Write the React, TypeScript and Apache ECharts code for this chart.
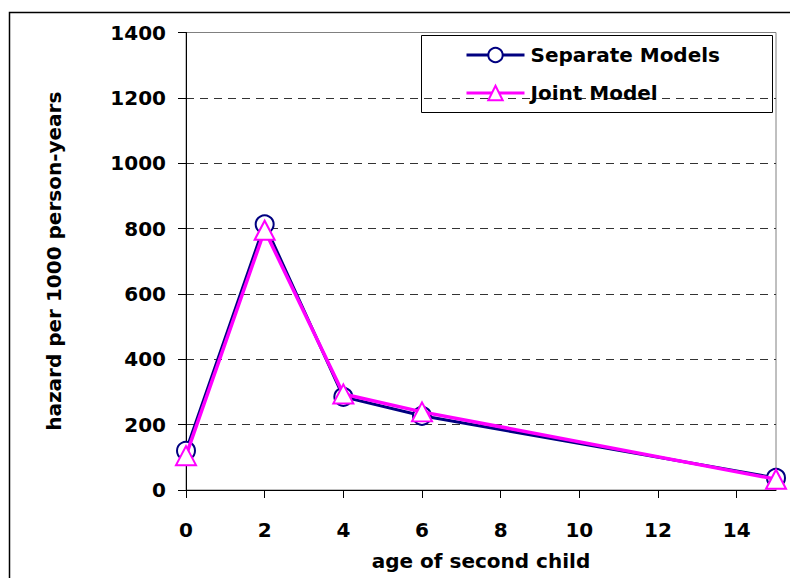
import React, { useEffect, useRef } from "react";
import * as echarts from "echarts";

const ages = [0, 2, 4, 6, 15];
const separateModels = [120, 813, 285, 227, 37];
const jointModel = [105, 795, 294, 239, 33];
const xTicks = [0, 2, 4, 6, 8, 10, 12, 14];
const seriesNames = ["Separate Models", "Joint Model"];

export default function App() {
  const ref = useRef<HTMLDivElement>(null);
  useEffect(() => {
    if (!ref.current) return;
    const chart = echarts.init(ref.current, undefined, { renderer: "svg" });
    const font = "'DejaVu Sans', 'Liberation Sans', sans-serif";
    const txt = { fontSize: 20, fontWeight: "bold", color: "#000", fontFamily: font };
    chart.setOption({
      animation: false,
      backgroundColor: "#ffffff",
      textStyle: { fontFamily: font },
      grid: {
        left: 186,
        right: 14,
        top: 32.5,
        bottom: 88,
        show: true,
        borderColor: "#808080",
        borderWidth: 1,
        containLabel: false,
      },
      legend: {
        orient: "vertical",
        left: 465,
        top: 45,
        padding: 0,
        itemWidth: 58,
        itemHeight: 18,
        itemGap: 18,
        textStyle: { ...txt, padding: [0, 0, 0, 1] },
        data: [
          { name: seriesNames[0], lineStyle: { width: 3 } },
          { name: seriesNames[1], lineStyle: { width: 3 } },
        ],
      },
      xAxis: {
        type: "value",
        min: 0,
        max: 15,
        interval: 2,
        name: "age of second child",
        nameLocation: "middle",
        nameGap: 61,
        nameTextStyle: txt,
        axisLine: { show: true, lineStyle: { color: "#000", width: 1 } },
        axisTick: { show: true, length: 8, inside: false, lineStyle: { color: "#000" }, customValues: xTicks },
        axisLabel: { ...txt, margin: 30, customValues: xTicks },
        splitLine: { show: false },
      },
      yAxis: {
        type: "value",
        min: 0,
        max: 1400,
        interval: 200,
        name: "hazard per 1000 person-years",
        nameLocation: "middle",
        nameGap: 122,
        nameRotate: 90,
        nameTextStyle: txt,
        axisLine: { show: true, lineStyle: { color: "#000", width: 1 } },
        axisTick: { show: true, length: 8, inside: false, lineStyle: { color: "#000" } },
        axisLabel: { ...txt, margin: 20, formatter: (v: number) => String(v) },
        splitLine: {
          show: true,
          showMinLine: false,
          showMaxLine: false,
          lineStyle: { color: "#333", type: [8, 6], width: 1 },
        },
      },
      graphic: [
        {
          type: "rect",
          left: 421,
          top: 35,
          shape: { width: 351, height: 77 },
          style: { fill: "#fff", stroke: "#000", lineWidth: 1 },
          z: -1,
        },
        {
          type: "rect",
          left: 7,
          top: 10,
          shape: { x: 0, y: 0, width: 800, height: 600 },
          style: { fill: "none", stroke: "#000", lineWidth: 1.5 },
          silent: true,
        },
      ],
      series: [
        {
          name: seriesNames[0],
          type: "line",
          data: ages.map((a, i) => [a, separateModels[i]]),
          symbol: "emptyCircle",
          symbolSize: 18,
          lineStyle: { color: "#000080", width: 3 },
          itemStyle: { color: "#000080", borderColor: "#000080", borderWidth: 1.2 },
          z: 3,
        },
        {
          name: seriesNames[1],
          type: "line",
          data: ages.map((a, i) => [a, jointModel[i]]),
          symbol: "emptyTriangle",
          symbolSize: [20, 19],
          lineStyle: { color: "#ff00ff", width: 3.5 },
          itemStyle: { color: "#ff00ff", borderColor: "#ff00ff", borderWidth: 1.2 },
          z: 4,
        },
      ],
    });
    return () => chart.dispose();
  }, []);
  return (
    <div
      ref={ref}
      style={{ position: "absolute", left: 0, top: 0, width: 790, height: 578 }}
    />
  );
}
